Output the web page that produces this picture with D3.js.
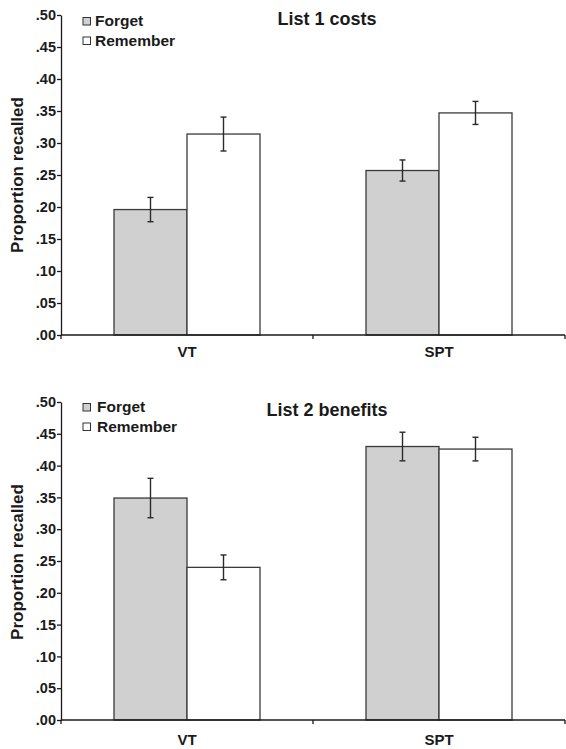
<!DOCTYPE html>
<html>
<head>
<meta charset="utf-8">
<script src="https://cdn.jsdelivr.net/npm/d3@7"></script>
<style>
  body { margin: 0; background: #fff; }
  svg { display: block; font-family: "Liberation Sans", Arial, sans-serif; font-weight: bold; }
</style>
</head>
<body>
<div id="chart"></div>
<script>
// categories and series
const categories = ["VT", "SPT"];
const seriesNames = ["Forget", "Remember"];
const seriesFill = ["#d0d0d0", "#ffffff"];

// List 1 costs (top panel)
const list1Forget = [0.196, 0.257];
const list1ForgetErr = [0.019, 0.0165];
const list1Remember = [0.314, 0.347];
const list1RememberErr = [0.0265, 0.018];

// List 2 benefits (bottom panel)
const list2Forget = [0.349, 0.430];
const list2ForgetErr = [0.031, 0.0225];
const list2Remember = [0.240, 0.426];
const list2RememberErr = [0.0195, 0.0186];

// y ticks
const yTicks = [0, 0.05, 0.10, 0.15, 0.20, 0.25, 0.30, 0.35, 0.40, 0.45, 0.50];
const yTickLabels = [".00", ".05", ".10", ".15", ".20", ".25", ".30", ".35", ".40", ".45", ".50"];

const W = 566, H = 749;
const svg = d3.select("#chart").append("svg")
  .attr("width", W)
  .attr("height", H);

function drawPanel(opt) {
  let g = svg.append("g");

  let x = d3.scaleBand().domain(categories).range([61, 565]).padding(0);
  let xSub = d3.scaleBand().domain(seriesNames).range([0, x.bandwidth()])
    .paddingInner(0).paddingOuter(0.726);
  let y = d3.scaleLinear().domain([0, 0.5]).range([opt.y0, opt.y1]);

  //build rows from the arrays
  let rows = [];
  categories.forEach(function(c, i) {
    rows.push({cat: c, s: 0, v: opt.forget[i], e: opt.forgetErr[i]});
    rows.push({cat: c, s: 1, v: opt.remember[i], e: opt.rememberErr[i]});
  });

  g.selectAll(".bar")
    .data(rows)
    .enter()
    .append("rect")
      .attr("class", "bar")
      .attr("x", d => x(d.cat) + xSub(seriesNames[d.s]))
      .attr("y", d => y(d.v))
      .attr("width", xSub.bandwidth())
      .attr("height", d => y(0) - y(d.v))
      .attr("fill", d => seriesFill[d.s])
      .attr("stroke", "#3a3a3a")
      .attr("stroke-width", 1.3);

  // error bars
  let eb = g.selectAll(".err")
    .data(rows)
    .enter()
    .append("g")
      .attr("class", "err")
      .attr("stroke", "#2a2a2a")
      .attr("stroke-width", 1.4);
  let cx = d => x(d.cat) + xSub(seriesNames[d.s]) + xSub.bandwidth() / 2;
  eb.append("line")
    .attr("x1", cx).attr("x2", cx)
    .attr("y1", d => y(d.v + d.e)).attr("y2", d => y(d.v - d.e));
  eb.append("line")
    .attr("x1", d => cx(d) - 3).attr("x2", d => cx(d) + 3)
    .attr("y1", d => y(d.v + d.e)).attr("y2", d => y(d.v + d.e));
  eb.append("line")
    .attr("x1", d => cx(d) - 3).attr("x2", d => cx(d) + 3)
    .attr("y1", d => y(d.v - d.e)).attr("y2", d => y(d.v - d.e));

  // y axis
  let yAxis = g.append("g")
    .attr("transform", "translate(61,0)")
    .call(d3.axisLeft(y).tickValues(yTicks)
      .tickFormat((d, i) => yTickLabels[i]).tickSize(4).tickSizeOuter(0));
  yAxis.selectAll("text")
    .attr("font-family", "Liberation Sans, Arial, sans-serif")
    .attr("font-weight", "bold")
    .attr("font-size", 14.5)
    .attr("fill", "#1a1a1a")
    .attr("x", -5);
  yAxis.selectAll("line, path").attr("stroke", "#1a1a1a").attr("stroke-width", 1.3);

  // x axis: line with ticks at the band edges
  let xAxis = g.append("g");
  xAxis.append("line")
    .attr("x1", x.range()[0]).attr("x2", x.range()[1])
    .attr("y1", y(0)).attr("y2", y(0))
    .attr("stroke", "#1a1a1a").attr("stroke-width", 1.5);
  let edges = categories.map(c => x(c)).concat([x.range()[1]]);
  xAxis.selectAll(".xt")
    .data(edges)
    .enter()
    .append("line")
      .attr("x1", d => d).attr("x2", d => d)
      .attr("y1", y(0)).attr("y2", y(0) + 4)
      .attr("stroke", "#1a1a1a").attr("stroke-width", 1.3);
  xAxis.selectAll(".xl")
    .data(categories)
    .enter()
    .append("text")
      .attr("x", d => x(d) + x.bandwidth() / 2)
      .attr("y", y(0) + opt.catDy)
      .attr("text-anchor", "middle")
      .attr("font-size", 15)
      .attr("fill", "#1a1a1a")
      .text(d => d);

  // y label
  g.append("text")
    .attr("transform", "translate(23," + opt.labelY + ") rotate(-90)")
    .attr("text-anchor", "middle")
    .attr("font-size", 17)
    .attr("fill", "#1a1a1a")
    .text("Proportion recalled");

  // title
  g.append("text")
    .attr("x", 327)
    .attr("y", opt.titleY)
    .attr("text-anchor", "middle")
    .attr("font-size", 18)
    .attr("fill", "#1a1a1a")
    .text(opt.title);

  // legend
  let leg = g.selectAll(".leg")
    .data(seriesNames)
    .enter()
    .append("g")
      .attr("transform", (d, i) => "translate(83," + (opt.legY + i * 19.5) + ")");
  leg.append("rect")
    .attr("x", 0).attr("y", -8.5)
    .attr("width", 7.5).attr("height", 7.5)
    .attr("fill", (d, i) => seriesFill[i])
    .attr("stroke", "#333")
    .attr("stroke-width", 1);
  leg.append("text")
    .attr("x", opt.legTx)
    .attr("y", 0)
    .attr("font-size", 15.5)
    .attr("fill", "#1a1a1a")
    .text(d => d);
}

drawPanel({
  title: "List 1 costs",
  forget: list1Forget, forgetErr: list1ForgetErr,
  remember: list1Remember, rememberErr: list1RememberErr,
  y0: 335, y1: 15, catDy: 22, labelY: 175, titleY: 25,
  legY: 26, legTx: 12
});

drawPanel({
  title: "List 2 benefits",
  forget: list2Forget, forgetErr: list2ForgetErr,
  remember: list2Remember, rememberErr: list2RememberErr,
  y0: 720, y1: 402, catDy: 25, labelY: 562, titleY: 416,
  legY: 412, legTx: 14
});
</script>
</body>
</html>
